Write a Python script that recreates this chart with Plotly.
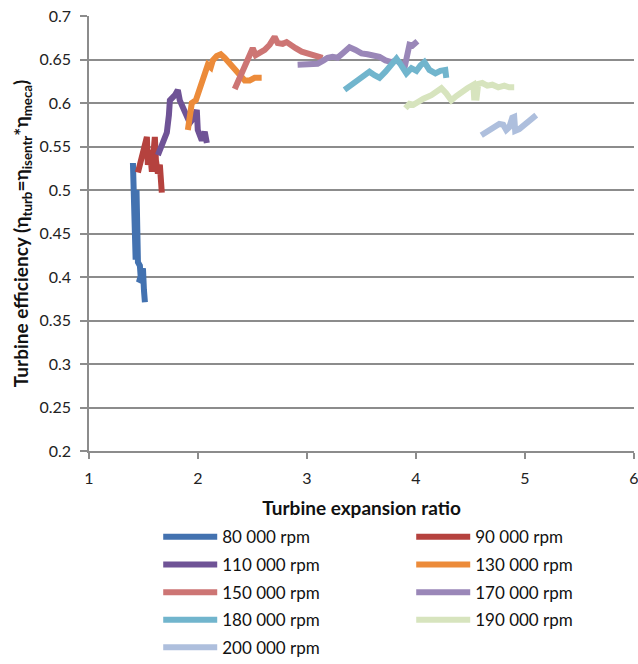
import plotly.graph_objects as go

# Turbine efficiency vs expansion ratio, one trace per rotational speed
speeds = ["80 000 rpm", "90 000 rpm", "110 000 rpm", "130 000 rpm", "150 000 rpm",
          "170 000 rpm", "180 000 rpm", "190 000 rpm", "200 000 rpm"]

ratio_80 = [1.403, 1.410, 1.415, 1.405, 1.420, 1.412, 1.425, 1.418, 1.428, 1.432,
            1.440, 1.436, 1.449, 1.467, 1.476, 1.458, 1.495, 1.504, 1.513]
eff_80 = [0.531, 0.480, 0.430, 0.505, 0.425, 0.520, 0.430, 0.490, 0.420, 0.470,
          0.418, 0.500, 0.417, 0.413, 0.397, 0.394, 0.410, 0.385, 0.371]

ratio_90 = [1.449, 1.485, 1.531, 1.540, 1.559, 1.577, 1.604, 1.614, 1.632, 1.650, 1.668]
eff_90 = [0.520, 0.540, 0.561, 0.529, 0.546, 0.521, 0.561, 0.534, 0.519, 0.529, 0.497]

ratio_110 = [1.632, 1.678, 1.714, 1.733, 1.742, 1.788, 1.815, 1.833, 1.879, 1.925,
             1.962, 1.989, 1.998, 2.035, 2.062, 2.081]
eff_110 = [0.540, 0.554, 0.566, 0.586, 0.603, 0.609, 0.615, 0.603, 0.590, 0.577,
           0.583, 0.592, 0.569, 0.557, 0.567, 0.554]

ratio_130 = [1.907, 1.925, 1.943, 1.980, 2.016, 2.071, 2.090, 2.117, 2.136, 2.172,
             2.209, 2.245, 2.291, 2.337, 2.383, 2.429, 2.474, 2.520, 2.584]
eff_130 = [0.569, 0.586, 0.600, 0.603, 0.617, 0.638, 0.644, 0.641, 0.649, 0.654,
           0.656, 0.652, 0.646, 0.640, 0.633, 0.626, 0.626, 0.629, 0.629]

ratio_150 = [2.337, 2.364, 2.392, 2.438, 2.474, 2.502, 2.529, 2.566, 2.612, 2.658,
             2.703, 2.731, 2.777, 2.813, 2.850, 2.896, 2.951, 3.005, 3.060, 3.143]
eff_150 = [0.616, 0.624, 0.631, 0.645, 0.657, 0.663, 0.655, 0.657, 0.661, 0.667,
           0.676, 0.669, 0.668, 0.670, 0.666, 0.663, 0.659, 0.657, 0.655, 0.652]

ratio_170 = [2.914, 3.024, 3.097, 3.152, 3.189, 3.234, 3.280, 3.344, 3.390, 3.445,
             3.500, 3.555, 3.619, 3.665, 3.720, 3.775, 3.821, 3.866, 3.894, 3.912,
             3.940, 3.967, 3.995, 4.013]
eff_170 = [0.644, 0.644, 0.645, 0.649, 0.652, 0.653, 0.652, 0.659, 0.664, 0.661,
           0.657, 0.656, 0.655, 0.653, 0.649, 0.647, 0.649, 0.645, 0.640, 0.655,
           0.667, 0.666, 0.669, 0.671]

ratio_180 = [3.344, 3.408, 3.463, 3.518, 3.573, 3.619, 3.665, 3.720, 3.775, 3.821,
             3.866, 3.912, 3.958, 4.004, 4.040, 4.077, 4.123, 4.178, 4.223, 4.269, 4.278]
eff_180 = [0.615, 0.621, 0.625, 0.630, 0.636, 0.632, 0.629, 0.636, 0.643, 0.651,
           0.643, 0.634, 0.640, 0.637, 0.643, 0.647, 0.638, 0.634, 0.637, 0.638, 0.629]

ratio_190 = [3.903, 3.940, 3.976, 4.013, 4.068, 4.141, 4.187, 4.233, 4.278, 4.324,
             4.370, 4.416, 4.471, 4.526, 4.535, 4.544, 4.553, 4.571, 4.608, 4.654,
             4.700, 4.755, 4.810, 4.855, 4.901]
eff_190 = [0.594, 0.599, 0.598, 0.601, 0.605, 0.609, 0.613, 0.617, 0.611, 0.603,
           0.608, 0.613, 0.617, 0.621, 0.603, 0.622, 0.603, 0.622, 0.623, 0.620,
           0.621, 0.618, 0.620, 0.618, 0.618]

ratio_200 = [4.599, 4.654, 4.709, 4.764, 4.800, 4.828, 4.855, 4.883, 4.901, 4.910,
             4.947, 5.002, 5.057, 5.103]
eff_200 = [0.563, 0.568, 0.572, 0.576, 0.575, 0.569, 0.572, 0.583, 0.584, 0.568,
           0.570, 0.576, 0.580, 0.586]

ratios = [ratio_80, ratio_90, ratio_110, ratio_130, ratio_150,
          ratio_170, ratio_180, ratio_190, ratio_200]
effs = [eff_80, eff_90, eff_110, eff_130, eff_150,
        eff_170, eff_180, eff_190, eff_200]

colors = ["#4372B0", "#B5423E", "#6F5396", "#EC8B3A", "#CD7574",
          "#9A87B8", "#71B5CD", "#D7E4BE", "#AEBFDD"]

y_ticks = [0.2, 0.25, 0.3, 0.35, 0.4, 0.45, 0.5, 0.55, 0.6, 0.65, 0.7]
y_tick_text = ["0.2", "0.25", "0.3", "0.35", "0.4", "0.45", "0.5", "0.55", "0.6", "0.65", "0.7"]
x_ticks = [1, 2, 3, 4, 5, 6]

FONT = "Lato, 'Open Sans', sans-serif"
GRID = "#8C8C8C"

# Legend laid out as two columns; each row is its own legend box
legend_ids = ["legend", "legend2", "legend3", "legend4", "legend5"]
legend_rows_y = [-0.198, -0.262, -0.326, -0.389, -0.452]

fig = go.Figure()
for i, (name, xs, ys, col) in enumerate(zip(speeds, ratios, effs, colors)):
    fig.add_trace(go.Scatter(
        x=xs, y=ys, mode="lines", name=name,
        line=dict(color=col, width=6, shape="linear"),
        legend=legend_ids[i // 2],
    ))

legend_style = dict(
    orientation="h", x=0.127, xanchor="left", yanchor="middle",
    entrywidth=184, entrywidthmode="pixels",
    font=dict(family=FONT, size=17, color="#111111"),
    itemwidth=54, bgcolor="rgba(0,0,0,0)",
)
legend_layout = {lid: dict(legend_style, y=ly) for lid, ly in zip(legend_ids, legend_rows_y)}

fig.update_layout(
    width=638, height=664,
    margin=dict(l=89, r=4, t=16, b=213, autoexpand=False),
    paper_bgcolor="white", plot_bgcolor="white",
    font=dict(family=FONT, size=16, color="#222222"),
    showlegend=True,
    **legend_layout,
    xaxis=dict(
        range=[1, 6], tickvals=x_ticks, ticks="outside", ticklen=6,
        tickcolor=GRID, tickwidth=1.5, ticklabelstandoff=6,
        ticklabeloverflow="allow",
        showline=True, linecolor=GRID, linewidth=1.5,
        showgrid=False, zeroline=False,
        tickfont=dict(family=FONT, size=16, color="#222222"),
        title=dict(text="<b>Turbine expansion ratio</b>",
                   font=dict(family=FONT, size=19, color="#111111"), standoff=16),
    ),
    yaxis=dict(
        range=[0.2, 0.7], tickvals=y_ticks, ticktext=y_tick_text,
        ticks="outside", ticklen=7, tickcolor=GRID, tickwidth=1.5,
        ticklabelstandoff=6,
        showline=True, linecolor=GRID, linewidth=1.5,
        showgrid=True, gridcolor=GRID, gridwidth=1.5, zeroline=False,
        tickfont=dict(family=FONT, size=16, color="#222222"),
        title=dict(
            text="<b>Turbine efficiency (η<sub>turb</sub>=η<sub>isentr</sub>*η<sub>meca</sub>)</b>",
            font=dict(family=FONT, size=19, color="#111111"), standoff=6),
    ),
)

fig.write_html("out.html")
